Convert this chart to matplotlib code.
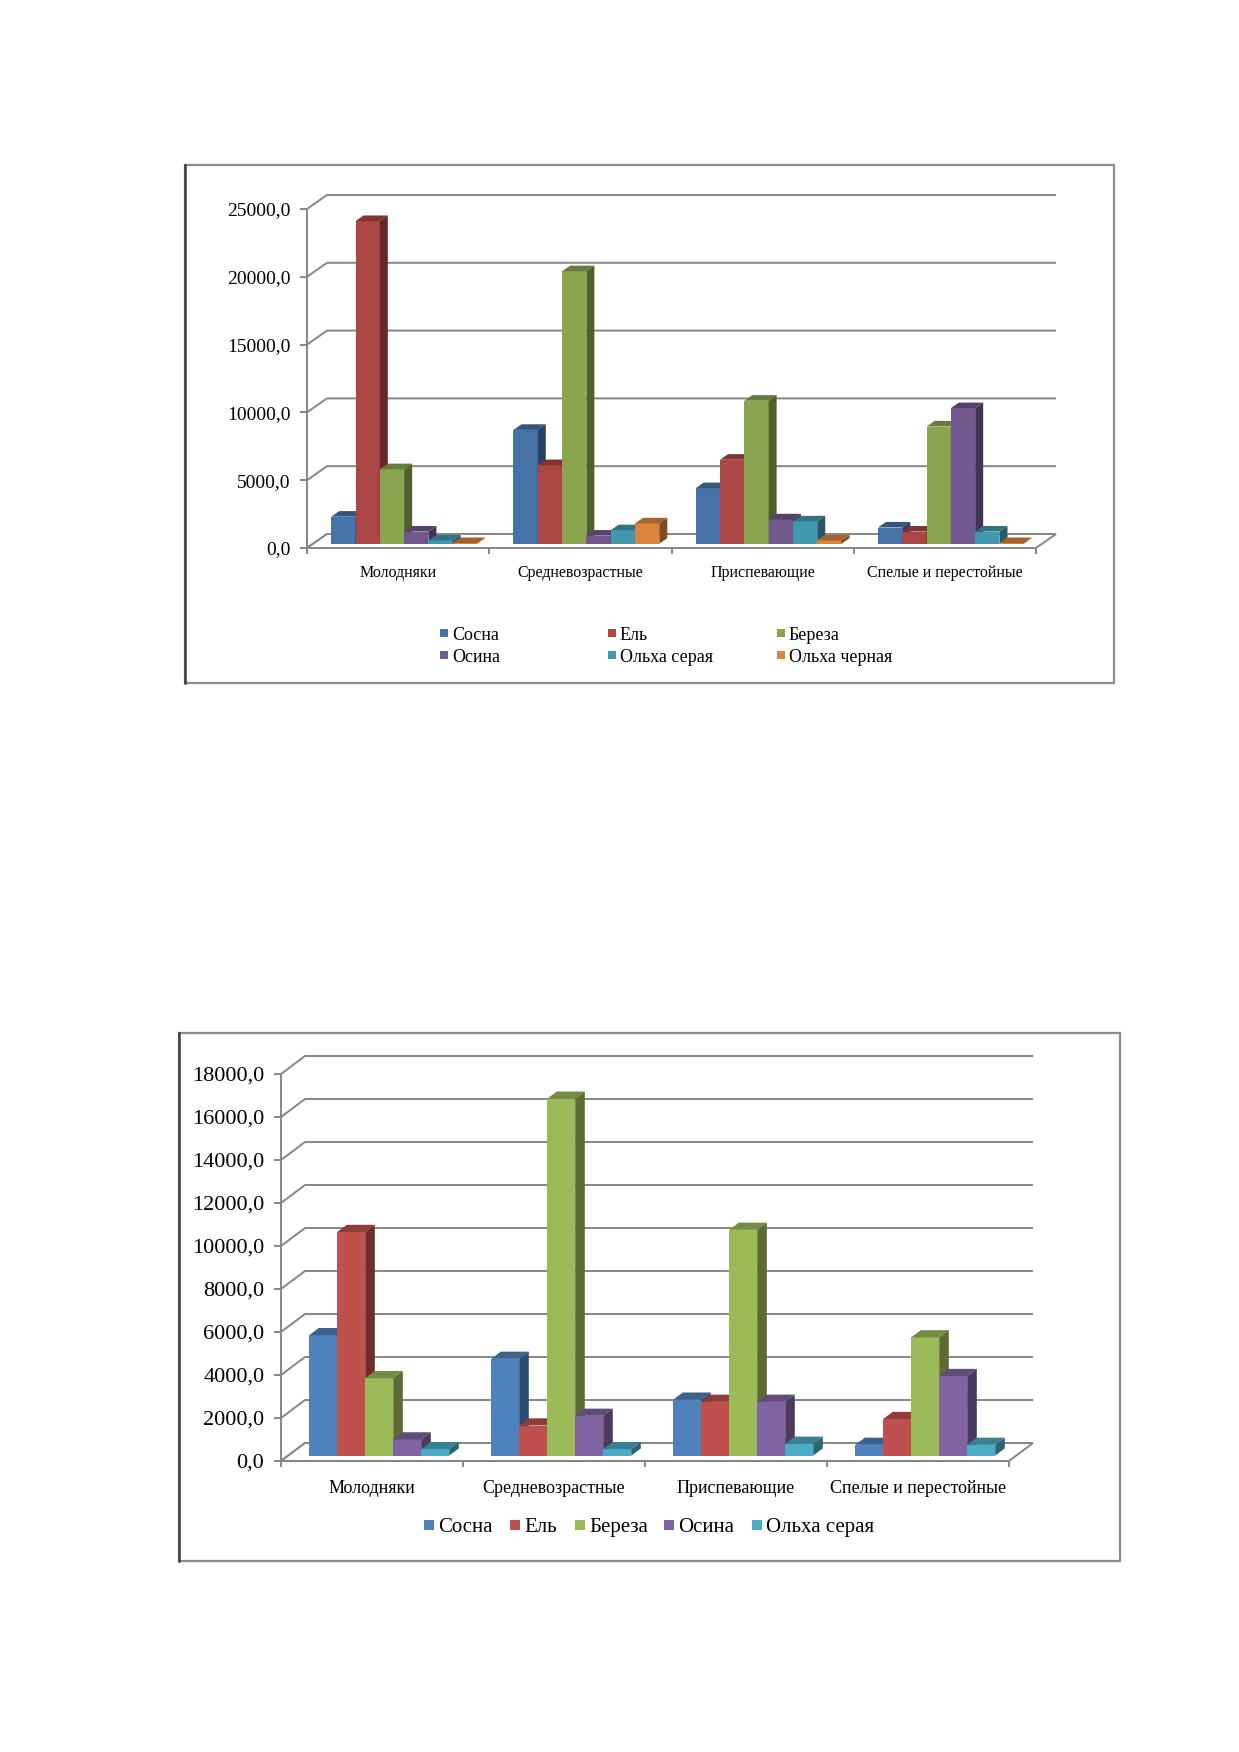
import numpy as np
import matplotlib
matplotlib.use("Agg")
import matplotlib.pyplot as plt
from matplotlib.patches import Polygon, Rectangle
from matplotlib.colors import to_rgb

plt.rcParams['font.family'] = ['Liberation Serif', 'DejaVu Serif']

W, H = 1239, 1752

# ---- data ----
categories = ["Молодняки", "Средневозрастные", "Приспевающие", "Спелые и перестойные"]

series1 = ["Сосна", "Ель", "Береза", "Осина", "Ольха серая", "Ольха черная"]
sosna1 = [2000, 8400, 4100, 1200]
el1 = [23800, 5800, 6200, 900]
bereza1 = [5500, 20100, 10550, 8650]
osina1 = [900, 600, 1800, 10000]
olkha_seraya1 = [250, 1000, 1650, 900]
olkha_chernaya1 = [50, 1500, 250, 50]
colors1 = ["#4572A7", "#AA4643", "#89A54E", "#71588F", "#4198AF", "#DB843D"]
yticks1 = np.arange(0, 25001, 5000)

series2 = ["Сосна", "Ель", "Береза", "Осина", "Ольха серая"]
sosna2 = [5600, 4500, 2600, 500]
el2 = [10400, 1400, 2500, 1700]
bereza2 = [3600, 16600, 10500, 5500]
osina2 = [750, 1850, 2500, 3700]
olkha_seraya2 = [300, 300, 550, 500]
colors2 = ["#4F81BD", "#C0504D", "#9BBB59", "#8064A2", "#4BACC6"]
yticks2 = np.arange(0, 18001, 2000)

GRID = "#868686"


def shade(c, k):
    r, g, b = to_rgb(c)
    return (r * k, g * k, b * k)


def fmt(v):
    return f"{v:.1f}".replace(".", ",")


def px_box(x0, y0, x1, y1):
    # pixel box (top-left origin) -> figure fraction [l, b, w, h]
    return [x0 / W, 1 - y1 / H, (x1 - x0) / W, (y1 - y0) / H]


def draw_chart(fig, box, data, colors, yticks, depth_px, tick_fs, cat_fs, cat_pad):
    ax = fig.add_axes(px_box(*box))
    n_cat = len(categories)
    xlo, xhi = -0.5, n_cat - 0.5
    ymax = yticks[-1]
    ax.set_xlim(xlo, xhi)
    ax.set_ylim(0, ymax)
    # depth offsets in data units
    DX = depth_px[0] / (box[2] - box[0]) * (xhi - xlo)
    DY = depth_px[1] / (box[3] - box[1]) * ymax

    # back wall gridlines with diagonal left wall
    for v in yticks:
        ax.plot([xlo, xlo + DX, xhi + DX], [v, v + DY, v + DY], color=GRID,
                lw=1.4, clip_on=False, zorder=1, solid_capstyle="butt")
    # floor
    ax.add_patch(Polygon([(xlo, 0), (xhi, 0), (xhi + DX, DY), (xlo + DX, DY)],
                         closed=True, facecolor="white", edgecolor=GRID,
                         lw=1.4, clip_on=False, zorder=1.5))

    n_s = len(data)
    w = 1.0 / (n_s + 1.5)
    s, d = 0.3, 0.4
    z = 3
    for ci in range(n_cat):
        for si, vals in enumerate(data):
            v = vals[ci]
            c = colors[si]
            xl = ci + (si - n_s / 2) * w + s * DX
            xr = xl + w
            b = s * DY
            ax.bar(xl, v, width=w, bottom=b, align="edge", color=c,
                   edgecolor="none", clip_on=False, zorder=z)
            top = [(xl, b + v), (xr, b + v), (xr + d * DX, b + v + d * DY),
                   (xl + d * DX, b + v + d * DY)]
            side = [(xr, b), (xr, b + v), (xr + d * DX, b + v + d * DY),
                    (xr + d * DX, b + d * DY)]
            ax.add_patch(Polygon(top, closed=True, facecolor=shade(c, 0.75),
                                 edgecolor="none", clip_on=False, zorder=z))
            ax.add_patch(Polygon(side, closed=True, facecolor=shade(c, 0.58),
                                 edgecolor="none", clip_on=False, zorder=z))
            z += 0.01

    for sp in ["top", "right"]:
        ax.spines[sp].set_visible(False)
    for sp in ["left", "bottom"]:
        ax.spines[sp].set_color(GRID)
        ax.spines[sp].set_linewidth(1.4)
        ax.spines[sp].set_zorder(2)
    ax.set_facecolor("none")
    ax.set_yticks(yticks)
    ax.set_yticklabels([fmt(v) for v in yticks])
    ax.tick_params(axis="y", direction="out", length=5, width=1.4, color=GRID,
                   pad=7, labelsize=tick_fs, labelcolor="black")
    ax.set_xticks(range(n_cat))
    ax.set_xticklabels(categories)
    ax.tick_params(axis="x", which="major", length=0, pad=cat_pad,
                   labelsize=cat_fs, labelcolor="black")
    ax.set_xticks(np.arange(xlo, xhi + 0.01, 1.0), minor=True)
    ax.tick_params(axis="x", which="minor", direction="out", length=4,
                   width=1.4, color=GRID)
    return ax


def frame(fig, x0, y0, x1, y1):
    l, b, w, h = px_box(x0, y0, x1, y1)
    fig.patches.append(Rectangle((l, b), w, h, transform=fig.transFigure,
                                 fill=False, edgecolor="#8C8C8C", lw=1.6))
    fig.lines.append(plt.Line2D([l, l], [b, b + h], transform=fig.transFigure,
                                color="#404040", lw=1.8))


def legend(fig, names, colors, xs, ys, size, fs):
    for name, c, x, y in zip(names, colors, xs, ys):
        fig.patches.append(Rectangle((x / W, 1 - (y + size / 2) / H), size / W, size / H,
                                     transform=fig.transFigure, facecolor=c,
                                     edgecolor="none"))
        fig.text((x + size + 4) / W, 1 - y / H, name, fontsize=fs,
                 va="center_baseline", ha="left")


fig = plt.figure(figsize=(W / 100, H / 100), dpi=100, facecolor="white")

# chart 1
frame(fig, 185, 165, 1114, 683)
draw_chart(fig, (307, 209, 1036, 548),
           [sosna1, el1, bereza1, osina1, olkha_seraya1, olkha_chernaya1],
           colors1, yticks1, (20, 14), 14, 11.5, 12)
legend(fig, series1, colors1,
       [440, 608, 777, 440, 608, 777], [633, 633, 633, 655, 655, 655], 8, 13)

# chart 2
frame(fig, 179, 1033, 1120, 1561)
draw_chart(fig, (281, 1074, 1009, 1461),
           [sosna2, el2, bereza2, osina2, olkha_seraya2],
           colors2, yticks2, (24, 18), 16, 13, 14)
legend(fig, series2, colors2,
       [424, 510, 575, 664, 752], [1525] * 5, 10, 15)

fig.savefig("out.png", dpi=100, facecolor="white")
